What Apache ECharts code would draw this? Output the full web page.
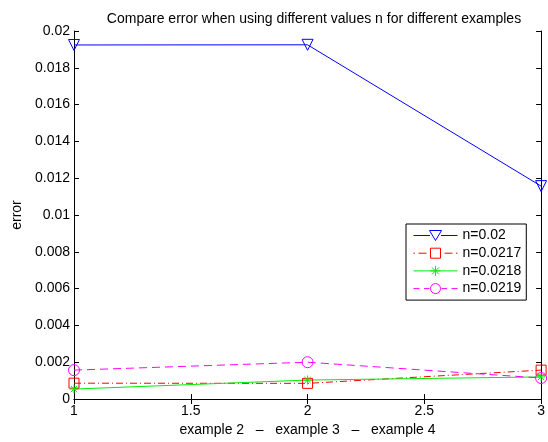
<!DOCTYPE html>
<html><head><meta charset="utf-8">
<script src="https://cdn.jsdelivr.net/npm/echarts@6/dist/echarts.min.js"></script>
<style>html,body{margin:0;padding:0;background:#fff}#c{width:548px;height:442px}</style>
</head><body><div id="c"></div>
<script>
var xValues = [1, 2, 3];
var seriesNames = ['n=0.02', 'n=0.0217', 'n=0.0218', 'n=0.0219'];
var s002 = [0.01924, 0.01925, 0.01157];
var s0217 = [0.00086, 0.00085, 0.00157];
var s0218 = [0.00054, 0.00103, 0.00120];
var s0219 = [0.00157, 0.00200, 0.00114];
var yTicks = [0, 0.002, 0.004, 0.006, 0.008, 0.01, 0.012, 0.014, 0.016, 0.018, 0.02];

function pairs(v) { return xValues.map(function (x, i) { return [x, v[i]]; }); }
var font = 'Liberation Sans, Arial, sans-serif';
var asterisk = 'path://M0,-10L0,10M-10,0L10,0M-7,-7L7,7M-7,7L7,-7';
var colors = ['#0000ff', '#ff0000', '#00ee00', '#ff00ff'];
var ltypes = ['solid', [7, 3, 1, 3], 'solid', [8, 5]];
// legend icons: line sample + marker, in a 44x10 box
var legendIcons = [
  'path://M0,5L16.5,5M27.5,5L44,5M16,0L28,0L22,10Z',
  'path://M0,5L1.5,5M5,5L13,5M31,5L39,5M42.5,5L44,5M17,0L27,0L27,10L17,10Z',
  'path://M0,5L44,5M22,0L22,10M17,5L27,5M18.5,1.5L25.5,8.5M18.5,8.5L25.5,1.5',
  'path://M0,5L6,5M10.5,5L16,5M28,5L33.5,5M38,5L44,5M17,5A5,5 0 1 1 27,5A5,5 0 1 1 17,5Z'
];

var chart = echarts.init(document.getElementById('c'));
function mk(i, data, symbol, rot, size) {
  return {
    name: seriesNames[i], type: 'line', data: pairs(data), symbol: symbol, symbolRotate: rot,
    symbolSize: size, showSymbol: true, color: colors[i],
    itemStyle: { color: 'rgba(255,255,255,0)', borderColor: colors[i], borderWidth: 1 },
    lineStyle: { color: colors[i], width: 1, type: ltypes[i] },
    emphasis: { disabled: true }, animation: false
  };
}
chart.setOption({
  animation: false,
  title: { text: 'Compare error when using different values n for different examples', left: 309, textAlign: 'center', top: 7,
    textStyle: { fontFamily: font, fontSize: 14, fontWeight: 'normal', color: '#000' } },
  grid: { left: 74, right: 4, top: 31, bottom: 41, containLabel: false },
  legend: {
    left: 406, top: 224, orient: 'vertical', itemGap: 3.7, itemWidth: 44, itemHeight: 10,
    padding: [4.5, 5, 4.5, 7], borderColor: '#000', borderWidth: 1, backgroundColor: '#fff',
    textStyle: { fontFamily: font, fontSize: 14, color: '#000', padding: [0, 0, 0, 0] },
    data: seriesNames.map(function (n, i) {
      return { name: n, icon: legendIcons[i],
        itemStyle: { color: '#ffffff', borderColor: colors[i], borderWidth: 1, opacity: 1 } };
    })
  },
  xAxis: [{
    type: 'value', min: 1, max: 3, interval: 0.5,
    name: 'example 2   \u2013   example 3   \u2013   example 4', nameLocation: 'middle', nameGap: 24,
    nameTextStyle: { fontFamily: font, fontSize: 14, color: '#000' },
    axisLine: { lineStyle: { color: '#000' } },
    axisTick: { inside: true, length: 5, lineStyle: { color: '#000' } },
    axisLabel: { fontFamily: font, fontSize: 14, color: '#000', margin: 5 },
    splitLine: { show: false }
  }, {
    type: 'value', min: 1, max: 3, interval: 0.5, position: 'top',
    axisLine: { lineStyle: { color: '#000' } },
    axisTick: { inside: true, length: 5, lineStyle: { color: '#000' } },
    axisLabel: { show: false }, splitLine: { show: false }
  }],
  yAxis: [{
    type: 'value', min: 0, max: 0.02, interval: 0.002,
    name: 'error', nameLocation: 'middle', nameGap: 46, nameRotate: 90,
    nameTextStyle: { fontFamily: font, fontSize: 14, color: '#000' },
    axisLine: { show: true, lineStyle: { color: '#000' } },
    axisTick: { inside: true, length: 5, lineStyle: { color: '#000' } },
    axisLabel: { fontFamily: font, fontSize: 14, color: '#000', margin: 4,
      formatter: function (v) { return String(+v.toFixed(4)); } },
    splitLine: { show: false }
  }, {
    type: 'value', min: 0, max: 0.02, interval: 0.002, position: 'right',
    axisLine: { show: true, lineStyle: { color: '#000' } },
    axisTick: { inside: true, length: 5, lineStyle: { color: '#000' } },
    axisLabel: { show: false }, splitLine: { show: false }
  }],
  series: [
    mk(0, s002, 'triangle', 180, 11),
    mk(1, s0217, 'rect', 0, 10),
    mk(2, s0218, asterisk, 0, 9),
    mk(3, s0219, 'circle', 0, 11)
  ]
});
</script></body></html>
